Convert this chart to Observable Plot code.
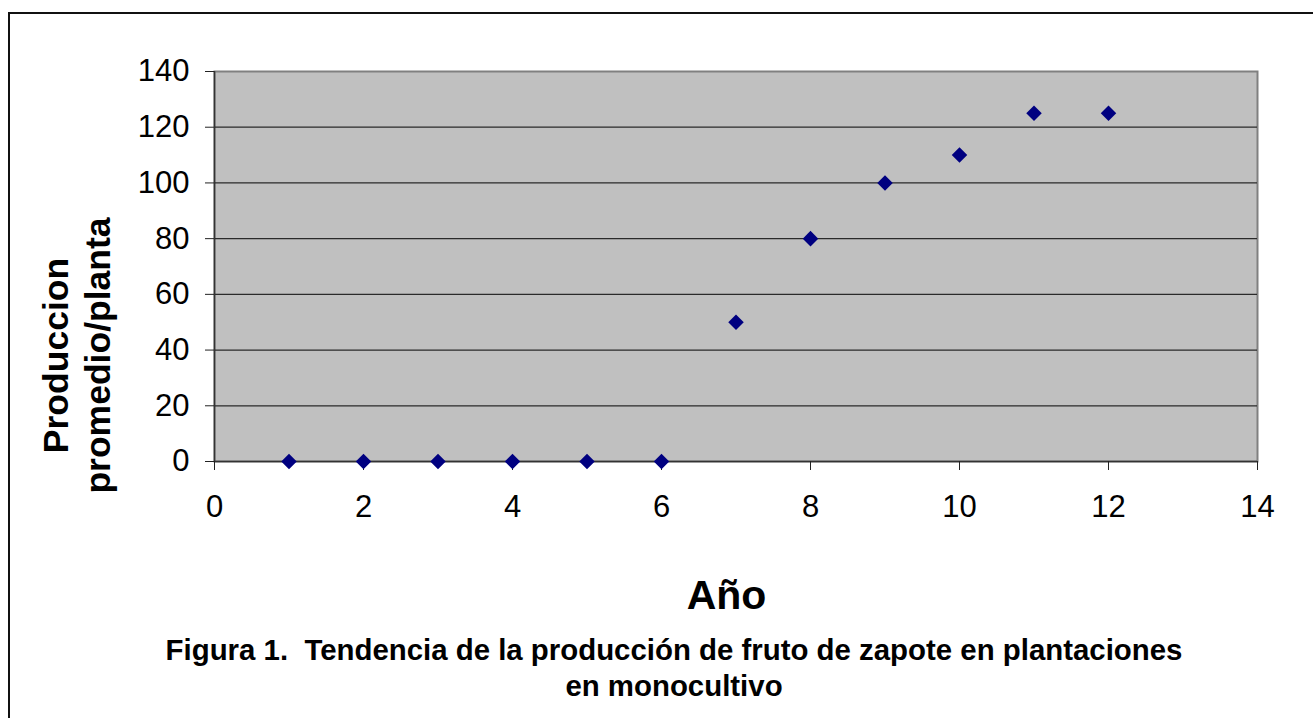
<!DOCTYPE html>
<html><head><meta charset="utf-8">
<script src="https://cdn.jsdelivr.net/npm/d3@7"></script>
<script src="https://cdn.jsdelivr.net/npm/@observablehq/plot@0.6"></script>
<style>
body{margin:0;background:#fff;overflow:hidden}
#wrap{position:relative;width:1313px;height:718px;overflow:hidden;font-family:"Liberation Sans",Arial,sans-serif;background:#fff}
#frame{position:absolute;left:8px;top:12px;width:1400px;height:800px;border:2px solid #111;box-sizing:border-box}
#chart{position:absolute;left:0;top:0}
#caption{position:absolute;top:632px;left:0;width:1348px;text-align:center;font-weight:bold;font-size:29.4px;line-height:36px;color:#000}
</style>
</head><body>
<div id="wrap"><div id="frame"></div><div id="chart"></div><div id="caption"></div></div>
<script>
const years = [1, 2, 3, 4, 5, 6, 7, 8, 9, 10, 11, 12];
const production = [0, 0, 0, 0, 0, 0, 50, 80, 100, 110, 125, 125];
const xTicks = [0, 2, 4, 6, 8, 10, 12, 14];
const yTicks = [0, 20, 40, 60, 80, 100, 120, 140];
const xLabel = "Año";
const yLabelLines = ["Produccion", "promedio/planta"];
const captionLines = ["Figura 1.\u00a0 Tendencia de la producción de fruto de zapote en plantaciones", "en monocultivo"];

const data = years.map((x, i) => ({x, y: production[i]}));

const chart = Plot.plot({
  width: 1313, height: 620,
  marginLeft: 214, marginRight: 56, marginTop: 71, marginBottom: 159,
  style: {background: "transparent", fontFamily: "Liberation Sans, Arial, sans-serif", color: "#000", overflow: "visible"},
  x: {domain: [0, 14]},
  y: {domain: [0, 140]},
  marks: [
    Plot.frame({fill: "#c0c0c0", stroke: "#808080", strokeWidth: 2}),
    Plot.ruleY(yTicks.filter(v => v > 0 && v < 140), {stroke: "#2a2a2a", strokeWidth: 1.3}),
    Plot.ruleX([0], {stroke: "#333", strokeWidth: 1.5}),
    Plot.ruleY([0], {stroke: "#333", strokeWidth: 1.5}),
    Plot.axisY({ticks: yTicks, tickSize: 9, tickPadding: 16, fontSize: 31, label: null, stroke: "#222"}),
    Plot.axisX({ticks: xTicks, tickSize: 9, tickPadding: 24, fontSize: 31, label: null, stroke: "#222"}),
    Plot.dot(data, {x: "x", y: "y", symbol: "diamond2", r: 7, fill: "#000080", stroke: null}),
    Plot.text([yLabelLines.join("\n")], {text: d => d, frameAnchor: "left", textAnchor: "middle", lineAnchor: "middle", rotate: -90, dx: -139, dy: 89, fontSize: 35.5, fontWeight: "bold", lineHeight: 1.183, fill: "#000"}),
    Plot.text([xLabel], {text: d => d, frameAnchor: "bottom", textAnchor: "middle", lineAnchor: "middle", dx: -9.5, dy: 134, fontSize: 41, fontWeight: "bold", fill: "#000"})
  ]
});
document.getElementById("chart").appendChild(chart);
const cap = document.getElementById("caption");
captionLines.forEach(t => { const d = document.createElement("div"); d.textContent = t; cap.appendChild(d); });
</script>
</body></html>
